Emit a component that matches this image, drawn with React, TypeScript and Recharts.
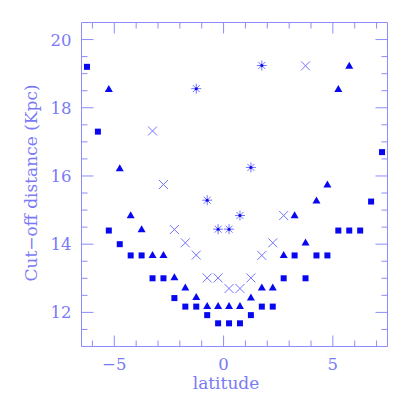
import React from 'react';
import { ScatterChart, Scatter, XAxis, YAxis } from 'recharts';

// latitude (deg) vs cut-off distance (Kpc), four samples
const squareLat = [-6.25, -5.75, -5.25, -4.75, -4.25, -3.75, -3.25, -2.75, -2.25, -1.75, -1.25, -0.75, -0.25, 0.25, 0.75, 1.25, 1.75, 2.25, 2.75, 3.25, 3.75, 4.25, 4.75, 5.25, 5.75, 6.25, 6.75, 7.25];
const squareDist = [19.2, 17.3, 14.4, 14.0, 13.67, 13.67, 13.0, 13.0, 12.42, 12.17, 12.17, 11.92, 11.68, 11.68, 11.68, 11.92, 12.17, 12.17, 13.0, 13.67, 13.0, 13.67, 13.67, 14.4, 14.4, 14.4, 15.25, 16.7];

const triangleLat = [-5.25, -4.75, -4.25, -3.75, -3.25, -2.75, -2.25, -1.75, -1.25, -0.75, -0.25, 0.25, 0.75, 1.25, 1.75, 2.25, 2.75, 3.25, 3.75, 4.25, 4.75, 5.25, 5.75];
const triangleDist = [18.55, 16.23, 14.85, 14.44, 13.68, 13.68, 13.03, 12.73, 12.45, 12.19, 12.19, 12.19, 12.19, 12.44, 12.73, 12.73, 13.68, 14.85, 14.05, 15.28, 15.75, 18.55, 19.23];

const crossLat = [-3.25, -2.75, -2.25, -1.75, -1.25, -0.75, -0.25, 0.25, 0.75, 1.25, 1.75, 2.25, 2.75, 3.75];
const crossDist = [17.32, 15.75, 14.43, 14.04, 13.68, 13.01, 13.01, 12.7, 12.7, 13.01, 13.67, 14.04, 14.84, 19.23];

const starLat = [-1.25, -0.75, -0.25, 0.25, 0.75, 1.25, 1.75];
const starDist = [18.56, 15.29, 14.44, 14.44, 14.84, 16.25, 19.24];

const xTicks = [-6, -5, -4, -3, -2, -1, 0, 1, 2, 3, 4, 5, 6, 7];
const xMajor = [-5, 0, 5];
const yTicks = [11.5, 12, 12.5, 13, 13.5, 14, 14.5, 15, 15.5, 16, 16.5, 17, 17.5, 18, 18.5, 19, 19.5, 20];
const yMajor = [12, 14, 16, 18, 20];

const DARK = '#0808f0';
const LIGHT = '#7474ff';
const AXIS = '#8c8cff';
const TEXT = '#7a7af8';
const FONT = '"DejaVu Serif", serif';

const toPoints = (xs: number[], ys: number[]) => xs.map((x, i) => ({ x, y: ys[i] }));
const squares = toPoints(squareLat, squareDist);
const triangles = toPoints(triangleLat, triangleDist);
const crosses = toPoints(crossLat, crossDist);
const stars = toPoints(starLat, starDist);

const fmt = (v: number) => (v < 0 ? '\u2212' + Math.abs(v) : String(v));

const BottomTick = (p: any) => {
  const major = xMajor.includes(p.payload.value);
  return (
    <g>
      <line x1={p.x} x2={p.x} y1={p.y} y2={p.y - (major ? 11 : 6)} stroke={AXIS} />
      {major && (
        <text x={p.x} y={p.y + 23} textAnchor="middle" fill={TEXT} fontSize={16.5} fontFamily={FONT}>
          {fmt(p.payload.value)}
        </text>
      )}
    </g>
  );
};

const TopTick = (p: any) => {
  const major = xMajor.includes(p.payload.value);
  return <line x1={p.x} x2={p.x} y1={p.y} y2={p.y + (major ? 11 : 6)} stroke={AXIS} />;
};

const LeftTick = (p: any) => {
  const major = yMajor.includes(p.payload.value);
  return (
    <g>
      <line x1={p.x} x2={p.x + (major ? 12 : 6)} y1={p.y} y2={p.y} stroke={AXIS} />
      {major && (
        <text x={p.x - 10} y={p.y + 6} textAnchor="end" fill={TEXT} fontSize={16.5} fontFamily={FONT}>
          {p.payload.value}
        </text>
      )}
    </g>
  );
};

const RightTick = (p: any) => {
  const major = yMajor.includes(p.payload.value);
  return <line x1={p.x} x2={p.x - (major ? 12 : 6)} y1={p.y} y2={p.y} stroke={AXIS} />;
};

const Square = ({ cx, cy }: any) => <rect x={cx - 3} y={cy - 3} width={6} height={6} fill={DARK} />;
const Triangle = ({ cx, cy }: any) => (
  <polygon points={`${cx - 4},${cy + 3} ${cx + 4},${cy + 3} ${cx},${cy - 4}`} fill={DARK} />
);
const Cross = ({ cx, cy }: any) => (
  <g stroke={LIGHT} strokeWidth={1}>
    <line x1={cx - 4.5} y1={cy - 4.5} x2={cx + 4.5} y2={cy + 4.5} />
    <line x1={cx - 4.5} y1={cy + 4.5} x2={cx + 4.5} y2={cy - 4.5} />
  </g>
);
const Star = ({ cx, cy }: any) => (
  <g stroke={LIGHT} strokeWidth={1}>
    <line x1={cx - 5} y1={cy} x2={cx + 5} y2={cy} />
    <line x1={cx} y1={cy - 5} x2={cx} y2={cy + 5} />
    <line x1={cx - 3.5} y1={cy - 3.5} x2={cx + 3.5} y2={cy + 3.5} />
    <line x1={cx - 3.5} y1={cy + 3.5} x2={cx + 3.5} y2={cy - 3.5} />
    <circle cx={cx} cy={cy} r={1.5} fill={DARK} stroke="none" />
  </g>
);
const Nothing = () => <g />;

export default function App() {
  return (
    <div style={{ position: 'absolute', left: 0, top: 0, width: 409, height: 409, background: '#fff' }}>
      <ScatterChart width={409} height={409} margin={{ top: 12.5, right: 11.5, bottom: 22.5, left: 41.5 }}>
        <XAxis
          xAxisId="b" type="number" dataKey="x" domain={[-6.5, 7.5]} ticks={xTicks} interval={0}
          height={40} tickSize={0} tickMargin={0} tickLine={false} axisLine={{ stroke: AXIS }} tick={BottomTick}
        />
        <XAxis
          xAxisId="t" orientation="top" type="number" dataKey="x" domain={[-6.5, 7.5]} ticks={xTicks} interval={0}
          height={10} tickSize={0} tickMargin={0} tickLine={false} axisLine={{ stroke: AXIS }} tick={TopTick}
        />
        <YAxis
          yAxisId="l" type="number" dataKey="y" domain={[11, 20.5]} ticks={yTicks} interval={0}
          width={40} tickSize={0} tickMargin={0} tickLine={false} axisLine={{ stroke: AXIS }} tick={LeftTick}
        />
        <YAxis
          yAxisId="r" orientation="right" type="number" dataKey="y" domain={[11, 20.5]} ticks={yTicks} interval={0}
          width={10} tickSize={0} tickMargin={0} tickLine={false} axisLine={{ stroke: AXIS }} tick={RightTick}
        />
        <Scatter xAxisId="t" yAxisId="r" data={squares} shape={Nothing} isAnimationActive={false} />
        <Scatter xAxisId="b" yAxisId="l" data={crosses} shape={Cross} isAnimationActive={false} />
        <Scatter xAxisId="b" yAxisId="l" data={stars} shape={Star} isAnimationActive={false} />
        <Scatter xAxisId="b" yAxisId="l" data={squares} shape={Square} isAnimationActive={false} />
        <Scatter xAxisId="b" yAxisId="l" data={triangles} shape={Triangle} isAnimationActive={false} />
      </ScatterChart>
      <svg width={409} height={409} style={{ position: 'absolute', left: 0, top: 0, pointerEvents: 'none' }}>
        <text x={226} y={389} textAnchor="middle" fill={TEXT} fontSize={17} fontFamily={FONT}>
          latitude
        </text>
        <text
          x={0} y={0} transform="translate(37,183) rotate(-90)" textAnchor="middle"
          fill={TEXT} fontSize={17} fontFamily={FONT}
        >
          {'Cut\u2212off distance (Kpc)'}
        </text>
      </svg>
    </div>
  );
}
